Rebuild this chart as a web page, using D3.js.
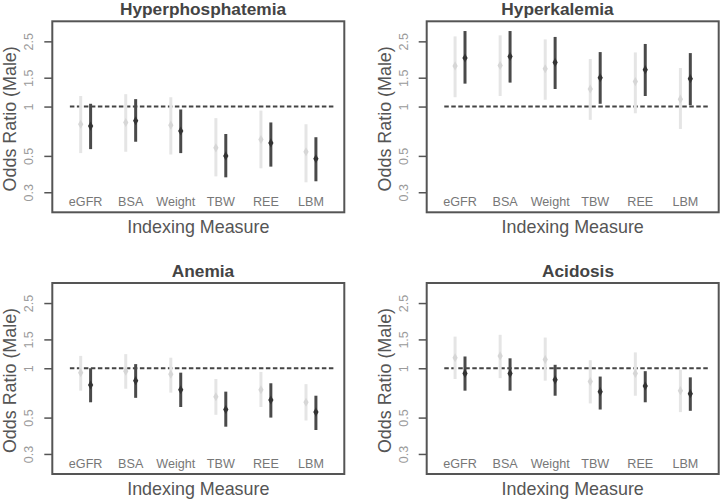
<!DOCTYPE html>
<html>
<head>
<meta charset="utf-8">
<script src="https://cdn.jsdelivr.net/npm/d3@7"></script>
<style>
  html, body { margin: 0; padding: 0; background: #fff; }
  svg { display: block; font-family: "Liberation Sans", Arial, sans-serif; }
</style>
</head>
<body>
<svg id="chart" width="720" height="499"></svg>
<script>
// ---------- data ----------
const categories = ["eGFR", "BSA", "Weight", "TBW", "REE", "LBM"];
const panelTitles = ["Hyperphosphatemia", "Hyperkalemia", "Anemia", "Acidosis"];
const yTickValues = [0.3, 0.5, 1, 1.5, 2.5];
const yTickLabels = ["0.3", "0.5", "1", "1.5", "2.5"];
const referenceValue = 1;
const xLabel = "Indexing Measure";
const yLabel = "Odds Ratio (Male)";

// light (grey) series and dark series: estimate, lower, upper
const hyperphosLightEst = [0.78, 0.80, 0.77, 0.56, 0.63, 0.53];
const hyperphosLightLo  = [0.52, 0.53, 0.51, 0.375, 0.42, 0.345];
const hyperphosLightHi  = [1.16, 1.19, 1.14, 0.85, 0.945, 0.78];
const hyperphosDarkEst  = [0.76, 0.82, 0.71, 0.50, 0.60, 0.48];
const hyperphosDarkLo   = [0.55, 0.61, 0.52, 0.37, 0.43, 0.35];
const hyperphosDarkHi   = [1.04, 1.11, 0.96, 0.68, 0.80, 0.65];

const hyperkalLightEst = [1.77, 1.78, 1.70, 1.28, 1.42, 1.11];
const hyperkalLightLo  = [1.14, 1.16, 1.10, 0.83, 0.91, 0.73];
const hyperkalLightHi  = [2.68, 2.72, 2.57, 1.95, 2.14, 1.72];
const hyperkalDarkEst  = [1.98, 2.02, 1.86, 1.50, 1.68, 1.48];
const hyperkalDarkLo   = [1.38, 1.40, 1.28, 1.04, 1.16, 1.02];
const hyperkalDarkHi   = [2.89, 2.89, 2.66, 2.15, 2.41, 2.12];

const anemiaLightEst = [0.94, 0.96, 0.92, 0.67, 0.74, 0.62];
const anemiaLightLo  = [0.73, 0.75, 0.71, 0.52, 0.58, 0.48];
const anemiaLightHi  = [1.19, 1.22, 1.16, 0.86, 0.95, 0.80];
const anemiaDarkEst  = [0.79, 0.84, 0.74, 0.56, 0.64, 0.54];
const anemiaDarkLo   = [0.62, 0.66, 0.58, 0.44, 0.50, 0.42];
const anemiaDarkHi   = [1.00, 1.06, 0.94, 0.72, 0.81, 0.68];

const acidosisLightEst = [1.16, 1.19, 1.13, 0.83, 0.93, 0.73];
const acidosisLightLo  = [0.86, 0.87, 0.84, 0.61, 0.68, 0.54];
const acidosisLightHi  = [1.56, 1.60, 1.54, 1.12, 1.25, 0.98];
const acidosisDarkEst  = [0.93, 0.93, 0.85, 0.72, 0.78, 0.70];
const acidosisDarkLo   = [0.73, 0.73, 0.68, 0.56, 0.62, 0.55];
const acidosisDarkHi   = [1.18, 1.15, 1.05, 0.89, 0.96, 0.88];

const panelData = [
  { light: [hyperphosLightEst, hyperphosLightLo, hyperphosLightHi], dark: [hyperphosDarkEst, hyperphosDarkLo, hyperphosDarkHi] },
  { light: [hyperkalLightEst, hyperkalLightLo, hyperkalLightHi], dark: [hyperkalDarkEst, hyperkalDarkLo, hyperkalDarkHi] },
  { light: [anemiaLightEst, anemiaLightLo, anemiaLightHi], dark: [anemiaDarkEst, anemiaDarkLo, anemiaDarkHi] },
  { light: [acidosisLightEst, acidosisLightLo, acidosisLightHi], dark: [acidosisDarkEst, acidosisDarkLo, acidosisDarkHi] }
];

// ---------- layout ----------
const boxX = [52.3, 426.7];
const boxY = [21.3, 283];
const boxW = 292, boxH = 191;
const titleCx = [203, 557.5, 203, 578];
const xDomain = [0.26, 6.74];
const yDomain = [Math.exp(Math.log(0.25) - 0.04 * Math.log(12)), Math.exp(Math.log(3) + 0.04 * Math.log(12))];
const offset = 0.11;

const svg = d3.select("#chart");
const diamond = d3.symbol().type(d3.symbolDiamond).size(24);

panelTitles.forEach((title, p) => {
  const col = p % 2, row = Math.floor(p / 2);
  const x0 = boxX[col], y0 = boxY[row];
  const x = d3.scaleLinear().domain(xDomain).range([x0, x0 + boxW]);
  const y = d3.scaleLog().domain(yDomain).range([y0 + boxH, y0]);
  const g = svg.append("g");

  // y axis (ticks + rotated labels)
  const axis = d3.axisLeft(y).tickValues(yTickValues).tickFormat((d, i) => yTickLabels[i]).tickSize(8).tickPadding(0);
  const ag = g.append("g").attr("transform", `translate(${x0},0)`).call(axis);
  ag.select(".domain").remove();
  ag.selectAll(".tick line").attr("stroke", "#555").attr("stroke-width", 1.5);
  ag.selectAll(".tick text")
    .attr("x", null).attr("dy", null)
    .attr("text-anchor", "middle")
    .attr("transform", "translate(-19,0) rotate(-90)")
    .attr("fill", "#9a9a9a")
    .attr("font-size", 12.5);

  // reference dashed line
  g.append("line")
    .attr("x1", x(0.65)).attr("x2", x(6.5))
    .attr("y1", y(referenceValue)).attr("y2", y(referenceValue))
    .attr("stroke", "#444").attr("stroke-width", 2)
    .attr("stroke-dasharray", "4.5,2.5");

  const series = [
    { vals: panelData[p].light, dx: -offset, line: "#e5e5e5", pt: "#d6d6d6" },
    { vals: panelData[p].dark, dx: offset, line: "#4a4a4a", pt: "#333" }
  ];
  series.forEach(s => {
    const rows = categories.map((c, i) => ({ i: i + 1, est: s.vals[0][i], lo: s.vals[1][i], hi: s.vals[2][i] }));
    g.append("g").selectAll("line").data(rows).join("line")
      .attr("x1", d => x(d.i + s.dx)).attr("x2", d => x(d.i + s.dx))
      .attr("y1", d => y(d.lo)).attr("y2", d => y(d.hi))
      .attr("stroke", s.line).attr("stroke-width", 3);
    g.append("g").selectAll("path").data(rows).join("path")
      .attr("d", diamond)
      .attr("transform", d => `translate(${x(d.i + s.dx)},${y(d.est)})`)
      .attr("fill", s.pt);
  });

  // category labels inside plot
  g.append("g").selectAll("text").data(categories).join("text")
    .attr("x", (d, i) => x(i + 1))
    .attr("y", y(0.25) + 1.2)
    .attr("text-anchor", "middle")
    .attr("fill", "#777")
    .attr("font-size", 12.6)
    .text(d => d);

  // box
  g.append("rect")
    .attr("x", x0).attr("y", y0).attr("width", boxW).attr("height", boxH)
    .attr("fill", "none").attr("stroke", "#555").attr("stroke-width", 2);

  // titles
  g.append("text")
    .attr("x", titleCx[p]).attr("y", y0 - 6.5)
    .attr("text-anchor", "middle")
    .attr("font-weight", "bold").attr("font-size", 17.3)
    .attr("fill", "#444")
    .text(title);

  g.append("text")
    .attr("x", x0 + boxW / 2).attr("y", y0 + boxH + 21)
    .attr("text-anchor", "middle")
    .attr("font-size", 17.9)
    .attr("fill", "#555")
    .text(xLabel);

  g.append("text")
    .attr("transform", `translate(${x0 - 36},${y0 + boxH / 2 + 2}) rotate(-90)`)
    .attr("text-anchor", "middle")
    .attr("font-size", 17.9)
    .attr("fill", "#555")
    .text(yLabel);
});
</script>
</body>
</html>
